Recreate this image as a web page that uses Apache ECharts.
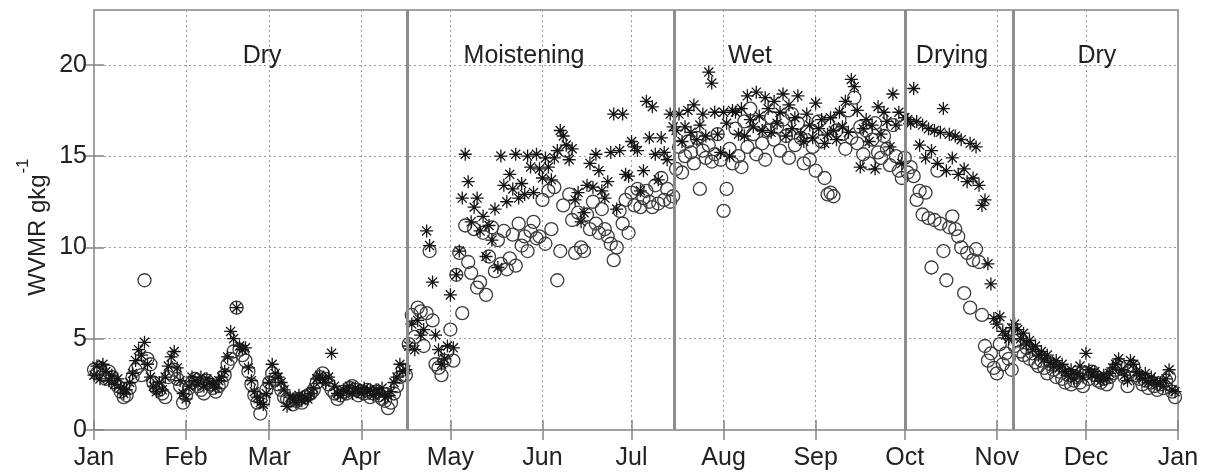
<!DOCTYPE html>
<html>
<head>
<meta charset="utf-8">
<script src="https://cdn.jsdelivr.net/npm/echarts@6/dist/echarts.min.js"></script>
<style>
  html, body { margin: 0; padding: 0; background: #fff; }
  #main { width: 1205px; height: 473px; }
</style>
</head>
<body>
<div id="main"></div>
<script>
// month starts (day of year) and their labels
var monthDays = [0, 31, 59, 90, 120, 151, 181, 212, 243, 273, 304, 334, 365];
var monthNames = ['Jan', 'Feb', 'Mar', 'Apr', 'May', 'Jun', 'Jul', 'Aug', 'Sep', 'Oct', 'Nov', 'Dec', 'Jan'];
var yTicks = [0, 5, 10, 15, 20];

// season boundaries and labels
var phaseBounds = [105.5, 195.5, 273, 309.5];
var phaseNames = ['Dry', 'Moistening', 'Wet', 'Drying', 'Dry'];
var phaseLabelDays = [56.6, 144.8, 220.9, 288.9, 337.7];
var phaseLabelY = 20.5;

// daily WVMR, open circles (day 0 .. 364)
var circleVals = [
  3.3, 3.1, 3.4, 3.0, 2.8, 3.2, 2.9, 2.6, 2.4, 2.1,
  1.8, 1.9, 2.3, 2.9, 3.3, 3.5, 3.0, 8.2, 3.9, 3.6,
  2.6, 2.3, 2.2, 2.0, 1.8, 2.9, 3.1, 3.3, 2.8, 2.4,
  1.5, 1.9, 2.3, 2.6, 2.8, 2.4, 2.2, 2.0, 2.7, 2.5,
  2.3, 2.1, 2.4, 2.6, 3.0, 3.6, 3.9, 4.3, 6.7, 4.4,
  4.1, 3.8, 3.2, 2.5, 1.9, 1.5, 0.9, 1.6, 2.2, 2.6,
  3.1, 2.8, 2.5, 2.2, 1.8, 1.7, 1.6, 1.4, 1.6, 1.7,
  1.5, 1.8, 1.9, 2.0, 2.2, 2.6, 2.9, 3.1, 2.8, 2.5,
  2.2, 2.0, 1.7, 1.9, 2.1, 2.0, 2.3, 2.4, 2.2, 1.9,
  2.1, 2.0, 2.2, 1.8, 2.0, 2.1, 1.9, 1.7, 1.6, 1.2,
  1.5, 2.0, 2.4, 2.9, 3.3, 3.0, 4.7, 6.3, 5.1, 6.7,
  6.5, 4.6, 6.4, 9.8, 6.0, 3.6, 3.4, 3.0, 3.8, 4.3,
  5.5, 3.8, 8.5, 9.7, 6.4, 11.2, 9.2, 8.6, 11.0, 7.8,
  8.1, 10.8, 7.4, 9.5, 11.1, 8.7, 10.4, 9.1, 10.9, 8.8,
  9.4, 10.7, 9.0, 11.3, 10.1, 10.6, 9.8, 10.9, 11.4, 10.5,
  10.6, 12.6, 10.2, 13.1, 11.0, 13.3, 8.2, 9.8, 12.3, 15.3,
  12.9, 11.5, 9.7, 11.9, 10.0, 9.8, 11.8, 11.0, 12.5, 11.3,
  10.8, 12.1, 11.0, 10.6, 10.2, 9.3, 10.0, 12.0, 11.3, 12.6,
  10.8, 13.0, 12.3, 13.2, 12.2, 12.7, 13.1, 12.5, 12.2, 13.4,
  12.4, 13.8, 12.6, 13.2, 12.5, 12.8, 14.3, 15.5, 14.1, 15.0,
  15.8, 15.2, 14.6, 16.0, 13.2, 15.3, 14.9, 15.6, 14.7, 15.1,
  16.2, 14.8, 12.0, 13.2, 15.4, 14.6, 16.5, 15.0, 14.4, 16.9,
  15.5, 17.6, 16.2, 15.1, 16.8, 15.7, 14.8, 16.4, 17.1, 15.9,
  16.6, 15.3, 17.0, 16.1, 14.9, 17.3, 15.6, 16.8, 16.0, 14.6,
  16.3, 14.8, 15.5, 14.2, 16.9, 15.8, 13.8, 12.9, 13.0, 12.8,
  16.4, 17.0, 16.2, 15.4, 17.5, 16.0, 18.2, 15.7, 16.6, 15.1,
  16.4, 14.6, 15.9, 16.8, 15.2, 14.9, 16.1, 15.4, 14.5, 16.7,
  15.0, 14.2, 13.8, 14.9, 14.1, 14.4, 13.9, 12.6, 13.1, 11.8,
  13.0, 11.6, 8.9, 11.5, 14.2, 11.3, 9.8, 8.2, 11.1, 11.7,
  11.0, 10.6, 10.0, 7.5, 9.7, 6.7, 9.3, 9.9, 9.2, 6.3,
  4.6, 3.8, 4.2, 3.4, 3.1, 4.7, 3.6, 4.2, 3.9, 3.3,
  4.6, 4.9, 4.3, 4.1, 4.5, 3.9, 4.2, 3.7, 3.5, 3.8,
  3.4, 3.1, 3.6, 3.3, 2.9, 3.2, 2.8, 2.6, 3.0, 2.5,
  2.7, 2.9, 2.6, 2.4, 3.1, 2.8, 3.2, 3.0, 2.7, 2.6,
  2.8, 2.5, 2.9, 3.1, 3.3, 3.6, 3.4, 2.9, 2.4, 3.2,
  3.5, 3.0, 2.8, 2.5, 2.7, 2.3, 2.6, 2.4, 2.2, 2.5,
  2.3, 2.7, 2.9, 2.1, 1.8
];

// daily WVMR, asterisks (day 0 .. 364)
var starVals = [
  3.0, 3.5, 2.8, 3.6, 3.2, 2.7, 3.0, 2.5, 2.8, 2.3,
  2.0, 2.2, 2.6, 3.1, 3.8, 4.4, 4.1, 4.8, 3.6, 2.9,
  2.4, 2.1, 2.6, 2.2, 2.9, 3.5, 4.0, 4.3, 3.4, 2.7,
  2.0, 1.7, 2.4, 2.9, 2.7, 2.5, 2.9, 2.4, 2.8, 2.6,
  2.5, 2.3, 2.7, 2.9, 3.2, 4.0, 5.4, 5.0, 6.7, 4.6,
  4.4, 4.5, 3.4, 2.7, 2.1, 1.8, 1.5, 1.4, 2.0, 2.6,
  3.6, 3.1, 2.9, 2.6, 2.2, 1.3, 1.8, 1.7, 1.5, 1.9,
  1.6, 1.8, 1.7, 2.0, 2.3, 2.8, 3.0, 2.8, 2.6, 2.9,
  4.2, 2.4, 2.0, 1.9, 2.2, 2.1, 2.4, 2.0, 2.3, 2.1,
  2.0, 2.3, 2.1, 2.2, 1.9, 2.2, 2.0, 2.3, 1.8, 1.9,
  2.1, 2.6, 2.9, 3.6, 3.2, 3.3, 4.6, 5.8, 4.4, 6.0,
  5.2, 5.5, 10.9, 10.1, 8.1, 5.2, 4.4, 3.6, 3.9, 4.6,
  7.4, 4.5, 8.5, 9.8, 12.7, 15.1, 13.6, 11.4, 12.2, 12.7,
  10.9, 11.7, 9.5, 11.2, 10.4, 12.1, 8.9, 15.0, 13.4, 12.5,
  14.0, 13.2, 15.1, 12.7, 13.5, 12.9, 15.0, 14.4, 13.0, 15.1,
  14.3, 13.8, 14.9, 14.4, 13.7, 14.9, 15.3, 16.4, 16.1, 15.6,
  14.8, 15.4, 12.6, 13.0, 11.4, 11.9, 13.4, 14.6, 13.3, 15.1,
  14.2, 13.1, 12.7, 13.6, 15.2, 17.3, 12.1, 15.3, 17.3, 14.0,
  13.9, 15.8, 15.5, 15.3, 13.1, 14.2, 18.0, 16.0, 17.7, 15.1,
  13.7, 16.0, 15.2, 14.8, 17.3, 16.6, 16.4, 17.3, 15.8, 16.6,
  17.5, 16.3, 17.8, 15.9, 16.7, 17.3, 16.1, 19.6, 19.0, 17.4,
  16.2, 15.2, 17.4, 16.8, 15.0, 17.5, 17.4, 16.2, 17.6, 16.1,
  18.3, 17.0, 16.6, 18.5, 17.2, 16.4, 18.2, 17.6, 16.3, 18.0,
  16.8, 17.4, 18.4, 16.1, 17.8, 16.5, 17.1, 18.3, 16.2, 15.8,
  17.3, 16.7, 16.0, 17.9, 16.5, 17.0, 15.7, 16.2, 17.1, 16.4,
  15.9, 17.4, 16.6, 18.0, 16.3, 19.2, 18.8, 17.5, 14.4, 16.5,
  17.0, 15.8, 16.7, 14.3, 17.7, 16.2, 17.4, 16.9, 15.5, 18.4,
  16.7, 17.4, 14.6, 17.1, 17.0, 16.8, 18.7, 16.9, 15.6, 16.7,
  14.9, 16.5, 15.3, 16.4, 14.6, 16.3, 17.6, 14.2, 16.2, 14.9,
  16.1, 14.0, 15.9, 14.3, 13.6, 15.7, 13.8, 15.5, 13.4, 12.3,
  12.6, 9.1, 8.0, 6.1, 5.8, 6.2, 5.4, 5.2, 5.0, 5.6,
  5.8, 5.5, 5.0, 5.3, 4.7, 4.9, 4.4, 4.6, 4.1, 4.3,
  3.9, 4.1, 3.7, 3.5, 3.8, 3.4, 3.6, 3.2, 3.0, 3.3,
  2.8, 3.1, 3.5, 2.9, 4.2, 3.3, 3.0, 3.2, 2.9, 2.7,
  3.0, 2.8, 3.1, 3.4, 3.6, 3.9, 3.3, 3.0, 2.7, 3.8,
  3.6, 3.2, 3.0, 2.8, 3.1, 2.6, 2.9, 2.7, 2.5, 2.6,
  2.4, 2.8, 3.3, 2.2, 2.1
];

function toPoints(vals) {
  return vals.map(function (v, i) { return [i, v]; });
}

var FONT = 'Liberation Sans, Arial, sans-serif';
var TXT = '#222';
var FRAME = '#858585';
var starPath = 'path://M0,5L10,5M5,0L5,10M1.5,1.5L8.5,8.5M8.5,1.5L1.5,8.5';

var myChart = echarts.init(document.getElementById('main'), null, { renderer: 'canvas' });

var option = {
  backgroundColor: '#fff',
  animation: false,
  grid: {
    left: 94, right: 27, top: 10, bottom: 43,
    outerBoundsMode: 'none',
    show: true, borderColor: FRAME, borderWidth: 1.5, backgroundColor: 'transparent'
  },
  // y axis title with a superscript, drawn as two rotated texts
  graphic: [
    {
      type: 'text', x: 38, y: 235, rotation: Math.PI / 2, silent: true,
      style: { text: 'WVMR gkg', fill: TXT, font: '24px ' + FONT, align: 'center', verticalAlign: 'middle' }
    },
    {
      type: 'text', x: 23, y: 166, rotation: Math.PI / 2, silent: true,
      style: { text: '-1', fill: TXT, font: '17px ' + FONT, align: 'center', verticalAlign: 'middle' }
    }
  ],
  xAxis: [
    {
      type: 'value', min: 0, max: 365, position: 'bottom',
      axisLine: { show: false },
      axisTick: { show: true, inside: true, length: 10, customValues: monthDays, lineStyle: { color: FRAME, width: 1.5 } },
      axisLabel: {
        customValues: monthDays, margin: 16, color: TXT, fontSize: 25, fontFamily: FONT,
        formatter: function (v) { return monthNames[monthDays.indexOf(v)] || ''; }
      },
      splitLine: { show: true, lineStyle: { color: '#9a9a9a', width: 1, type: [2, 3] } }
    },
    {
      type: 'value', min: 0, max: 365, position: 'top',
      axisLine: { show: false },
      axisTick: { show: true, inside: true, length: 10, customValues: monthDays, lineStyle: { color: FRAME, width: 1.5 } },
      axisLabel: { show: false },
      splitLine: { show: false }
    }
  ],
  yAxis: [
    {
      type: 'value', min: 0, max: 23, position: 'left',
      axisLine: { show: false },
      axisTick: { show: true, inside: true, length: 10, customValues: yTicks, lineStyle: { color: FRAME, width: 1.5 } },
      axisLabel: { customValues: yTicks, margin: 7, color: TXT, fontSize: 25, fontFamily: FONT },
      splitLine: { show: true, lineStyle: { color: '#9a9a9a', width: 1, type: [2, 3] } }
    },
    {
      type: 'value', min: 0, max: 23, position: 'right',
      axisLine: { show: false },
      axisTick: { show: true, inside: true, length: 10, customValues: yTicks, lineStyle: { color: FRAME, width: 1.5 } },
      axisLabel: { show: false },
      splitLine: { show: false }
    }
  ],
  series: [
    {
      name: 'circles',
      type: 'scatter',
      xAxisIndex: 0, yAxisIndex: 0,
      symbol: 'circle',
      symbolSize: 13,
      itemStyle: { color: 'rgba(0,0,0,0)', borderColor: '#3c3c3c', borderWidth: 1.3, opacity: 1 },
      data: toPoints(circleVals),
      markLine: {
        silent: true,
        symbol: 'none',
        label: { show: false },
        lineStyle: { color: '#8c8c8c', width: 3, type: 'solid' },
        data: phaseBounds.map(function (d) { return { xAxis: d }; })
      }
    },
    {
      name: 'stars',
      type: 'scatter',
      xAxisIndex: 0, yAxisIndex: 0,
      symbol: starPath,
      symbolSize: 13,
      itemStyle: { color: 'rgba(0,0,0,0)', borderColor: '#151515', borderWidth: 1.3, opacity: 1 },
      data: toPoints(starVals)
    },
    {
      name: 'phases',
      type: 'scatter',
      xAxisIndex: 0, yAxisIndex: 0,
      symbolSize: 0,
      silent: true,
      itemStyle: { opacity: 1 },
      label: {
        show: true, position: 'inside', color: TXT, fontSize: 25, fontFamily: FONT,
        formatter: function (p) { return p.data[2]; }
      },
      data: phaseNames.map(function (n, i) { return [phaseLabelDays[i], phaseLabelY, n]; })
    }
  ]
};

myChart.setOption(option);
</script>
</body>
</html>
